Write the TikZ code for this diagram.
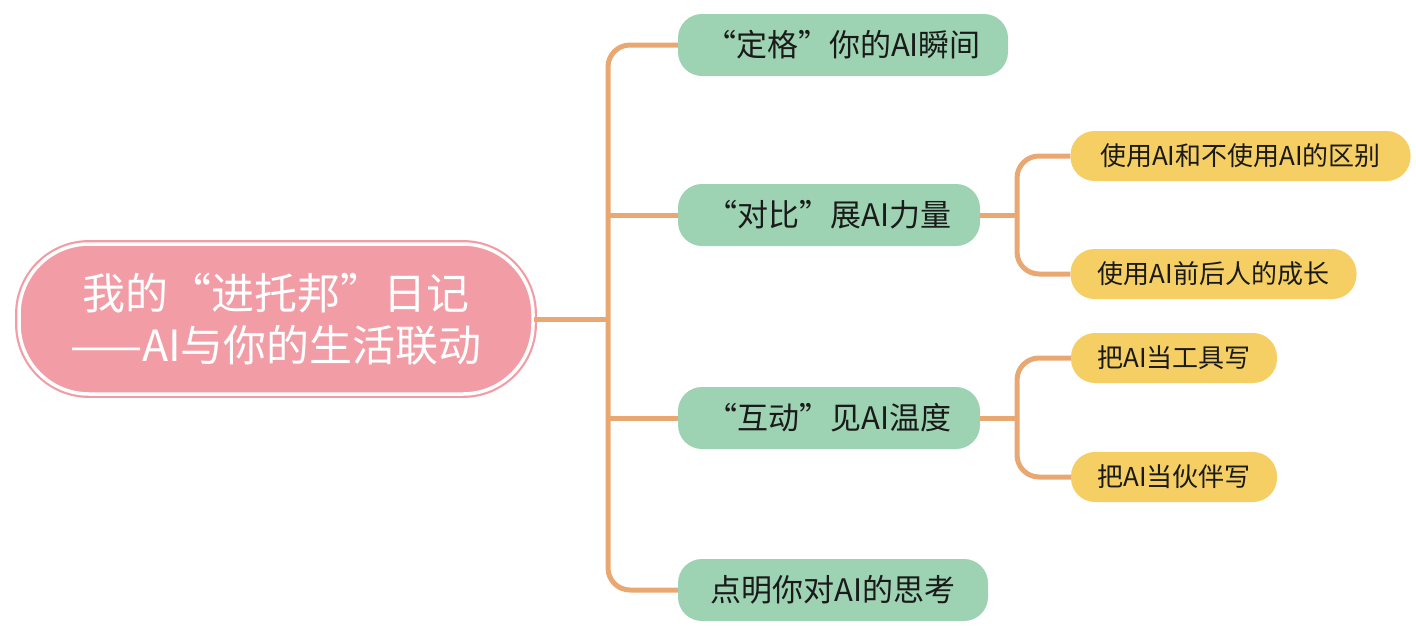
\documentclass[tikz,border=0pt]{standalone}
\usepackage{fontspec}
\setmainfont{Noto Sans CJK SC}
\newfontfamily\cjk{Noto Sans CJK SC}
\definecolor{rootpink}{HTML}{F29DA6}
\definecolor{greenfill}{HTML}{9DD3B3}
\definecolor{yellowfill}{HTML}{F5CF63}
\definecolor{connc}{HTML}{E9A771}
\definecolor{txt}{HTML}{1A1A1A}
\tikzset{
  rootbox/.style={fill=rootpink, draw=rootpink, line width=2.2pt, double=white, double distance=3.5pt,
    rounded corners=70pt, minimum width=514pt, minimum height=150pt, inner sep=0pt,
    text=white, align=center, font=\cjk\fontsize{43}{52}\selectfont},
  greenbox/.style={fill=greenfill, rounded corners=24pt, minimum height=62pt, inner sep=0pt,
    text=txt, font=\cjk\fontsize{31}{36}\selectfont},
  yellowbox/.style={fill=yellowfill, rounded corners=24pt, minimum height=50pt, inner sep=0pt,
    text=txt, font=\cjk\fontsize{26}{30}\selectfont},
  conn/.style={draw=connc, line width=5pt, rounded corners=22pt},
}
\begin{document}
\begin{tikzpicture}[x=1pt,y=-1pt]
\useasboundingbox (0,0) rectangle (1416,627);
\node[rootbox] (root) at (276,319) {我的“进托邦”日记\\——AI与你的生活联动};
\node[greenbox, minimum width=330pt] (n1) at (843,45) {“定格”你的AI瞬间};
\node[greenbox, minimum width=302pt] (n2) at (829,215) {“对比”展AI力量};
\node[greenbox, minimum width=302pt] (n3) at (829,418) {“互动”见AI温度};
\node[greenbox, minimum width=310pt] (n4) at (833,590) {点明你对AI的思考};
\node[yellowbox, minimum width=340pt] (s1) at (1240.5,156) {使用AI和不使用AI的区别};
\node[yellowbox, minimum width=286pt] (s2) at (1213.5,274) {使用AI前后人的成长};
\node[yellowbox, minimum width=206pt] (s3) at (1174,358) {把AI当工具写};
\node[yellowbox, minimum width=206pt] (s4) at (1174,477) {把AI当伙伴写};
\coordinate (tj) at (608,319);
\coordinate (j2) at (1017,215);
\coordinate (j3) at (1017,418);
\draw[conn] (n1.west) -| (tj) |- (n4.west);
\draw[conn] (root.east) -- (tj);
\draw[conn] (n2.west) -- (n2.west -| tj);
\draw[conn] (n3.west) -- (n3.west -| tj);
\draw[conn] (s1.west) -| (j2) |- (s2.west);
\draw[conn] (n2.east) -- (j2);
\draw[conn] (s3.west) -| (j3) |- (s4.west);
\draw[conn] (n3.east) -- (j3);
\end{tikzpicture}
\end{document}
